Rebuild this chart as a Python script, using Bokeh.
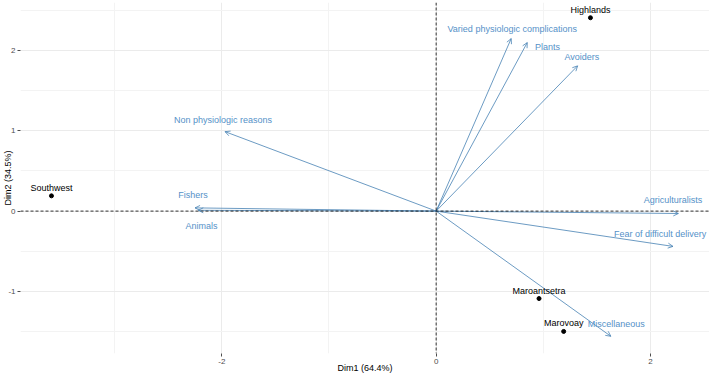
from bokeh.plotting import figure
from bokeh.models import (ColumnDataSource, Arrow, OpenHead, Span, FixedTicker,
                          CustomJSTickFormatter)
from bokeh.core.properties import value
from bokeh.embed import file_html
from bokeh.resources import INLINE

# Individuals (regions) on the first two principal dimensions
ind_names = ["Highlands", "Southwest", "Maroantsetra", "Marovoay"]
ind_dim1 = [1.44, -3.59, 0.96, 1.19]
ind_dim2 = [2.41, 0.19, -1.09, -1.50]

# Variables (loadings drawn as arrows from the origin)
var_names = ["Varied physiologic complications", "Plants", "Avoiders",
             "Non physiologic reasons", "Fishers", "Animals",
             "Agriculturalists", "Fear of difficult delivery", "Miscellaneous"]
var_dim1 = [0.70, 0.85, 1.32, -1.97, -2.25, -2.22, 2.26, 2.21, 1.63]
var_dim2 = [2.15, 2.10, 1.81, 0.99, 0.04, 0.01, -0.03, -0.44, -1.56]

# Where each variable's label sits after being pushed clear of the others
var_label_x = [0.71, 1.04, 1.36, -1.99, -2.27, -2.19, 2.21, 2.09, 1.68]
var_label_y = [2.275, 2.05, 1.925, 1.14, 0.20, -0.19, 0.14, -0.29, -1.41]

x_ticks = [-2, 0, 2]
x_minor = [-3, -1, 1]
y_ticks = [-1, 0, 1, 2]
y_minor = [-1.5, -0.5, 0.5, 1.5, 2.5]

x_title = "Dim1 (64.4%)"
y_title = "Dim2 (34.5%)"

FONT = "Liberation Sans"
VAR_LINE = "#4682B4"
VAR_TEXT = "#5591c8"

p = figure(width=709, height=375, output_backend="svg", toolbar_location=None,
           x_range=(-3.879, 2.551), y_range=(-1.775, 2.6),
           min_border_left=0, min_border_right=0, min_border_top=2,
           min_border_bottom=0)
p.outline_line_color = None
p.background_fill_color = "white"

for ax, ticks, minor, title in ((p.xaxis[0], x_ticks, x_minor, x_title),
                                (p.yaxis[0], y_ticks, y_minor, y_title)):
    ax.ticker = FixedTicker(ticks=ticks, minor_ticks=minor)
    ax.formatter = CustomJSTickFormatter(code="return tick.toString();")
    ax.axis_line_color = None
    ax.major_tick_in = 0
    ax.major_tick_out = 3
    ax.major_tick_line_color = "#4d4d4d"
    ax.minor_tick_line_color = None
    ax.major_label_text_font = FONT
    ax.major_label_text_font_size = "8px"
    ax.major_label_text_color = "#4d4d4d"
    ax.major_label_standoff = 1
    ax.axis_label = title
    ax.axis_label_text_font = FONT
    ax.axis_label_text_font_size = "9px"
    ax.axis_label_text_font_style = "normal"
    ax.axis_label_text_color = "black"

p.yaxis[0].axis_label_standoff = -8
p.xaxis[0].axis_label_standoff = -4

for g in (p.xgrid[0], p.ygrid[0]):
    g.grid_line_color = "#ebebeb"
    g.grid_line_width = 1
    g.minor_grid_line_color = "#f3f3f3"
    g.minor_grid_line_width = 1

# Reference lines through the origin
p.add_layout(Span(location=0, dimension="width", line_color="black",
                  line_dash="3 2", line_width=0.8))
p.add_layout(Span(location=0, dimension="height", line_color="black",
                  line_dash="3 2", line_width=0.8))

# Variable arrows: shafts as segments, open heads from an Arrow annotation
var_src = ColumnDataSource(dict(
    x0=[0.0] * len(var_names), y0=[0.0] * len(var_names),
    x=var_dim1, y=var_dim2, lx=var_label_x, ly=var_label_y, name=var_names))
p.segment(x0="x0", y0="y0", x1="x", y1="y", source=var_src,
          line_color=VAR_LINE, line_width=0.8)
p.add_layout(Arrow(x_start="x0", y_start="y0", x_end="x", y_end="y",
                   source=var_src, line_alpha=0,
                   end=OpenHead(size=5, line_color=VAR_LINE, line_width=0.8)))
p.text(x="lx", y="ly", text="name", source=var_src, text_color=VAR_TEXT,
       text_font=value(FONT), text_font_size="9px", text_align="center",
       text_baseline="middle")

# Individuals
ind_src = ColumnDataSource(dict(x=ind_dim1, y=ind_dim2, name=ind_names))
p.scatter(x="x", y="y", source=ind_src, size=4, color="black")
p.text(x="x", y="y", text="name", source=ind_src, text_color="black",
       text_font=value(FONT), text_font_size="9px", text_align="center",
       text_baseline="middle", y_offset=-8)

open("out.html", "w").write(file_html(p, INLINE))
